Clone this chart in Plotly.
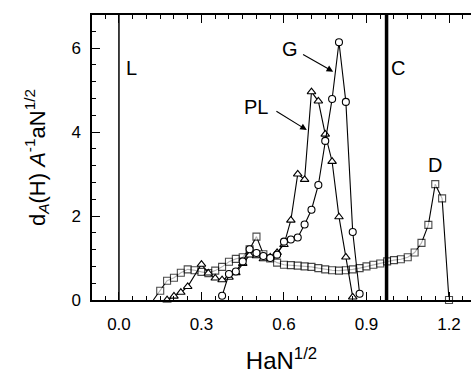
import plotly.graph_objects as go

# ---- data ----
d_x = [0.125, 0.15, 0.175, 0.2, 0.225, 0.25, 0.275, 0.3, 0.325, 0.35, 0.375, 0.4, 0.425, 0.45,
       0.475, 0.5, 0.525, 0.55, 0.575, 0.6, 0.625, 0.65, 0.675, 0.7, 0.725, 0.75, 0.775, 0.8,
       0.825, 0.85, 0.875, 0.9, 0.925, 0.95, 0.975, 1.0, 1.025, 1.05, 1.075, 1.1, 1.125, 1.15,
       1.175, 1.2]
d_y = [0.0, 0.22, 0.46, 0.53, 0.65, 0.73, 0.71, 0.67, 0.64, 0.70, 0.79, 0.91, 0.98, 1.02,
       1.21, 1.51, 1.09, 0.99, 0.89, 0.84, 0.83, 0.82, 0.80, 0.79, 0.76, 0.73, 0.71, 0.70,
       0.71, 0.73, 0.76, 0.80, 0.84, 0.87, 0.92, 0.95, 0.97, 1.02, 1.13, 1.36, 1.79, 2.76,
       2.42, 0.0]

pl_x = [0.175, 0.2, 0.225, 0.25, 0.3, 0.325, 0.35, 0.375, 0.4, 0.425, 0.45, 0.475, 0.5, 0.525,
        0.55, 0.575, 0.6, 0.625, 0.65, 0.675, 0.7, 0.725, 0.75, 0.775, 0.8, 0.825, 0.85]
pl_y = [0.0, 0.09, 0.18, 0.32, 0.85, 0.64, 0.52, 0.48, 0.54, 0.65, 0.87, 1.07, 1.05, 0.98,
        1.02, 1.13, 1.32, 1.90, 3.00, 2.87, 4.96, 4.74, 3.95, 3.30, 1.98, 1.02, 0.07]

g_x = [0.375, 0.4, 0.425, 0.45, 0.475, 0.5, 0.525, 0.55, 0.575, 0.6, 0.625, 0.65, 0.675, 0.7,
       0.725, 0.75, 0.775, 0.8, 0.825, 0.85, 0.875]
g_y = [0.10, 0.62, 0.68, 0.92, 1.21, 1.12, 1.05, 1.00, 1.08, 1.39, 1.44, 1.49, 1.80, 2.15,
       2.74, 3.79, 4.79, 6.14, 4.72, 1.62, 0.15]

boundary_L = 0.0
boundary_C = 0.973

x_ticks = [0.0, 0.3, 0.6, 0.9, 1.2]
x_tick_text = ["0.0", "0.3", "0.6", "0.9", "1.2"]
y_ticks = [0, 2, 4, 6]

FONT = "Liberation Sans, Arial, sans-serif"

fig = go.Figure()

# D series (first point is the line start, no marker)
d_sizes = [0] + [7] * (len(d_x) - 1)
fig.add_trace(go.Scatter(x=d_x, y=d_y, mode="lines+markers",
                         line=dict(color="black", width=1.1),
                         marker=dict(symbol="square", size=d_sizes, color="white",
                                     line=dict(color="black", width=1.1)),
                         cliponaxis=False, showlegend=False))
fig.add_trace(go.Scatter(x=pl_x, y=pl_y, mode="lines+markers",
                         line=dict(color="black", width=1.1),
                         marker=dict(symbol="triangle-up", size=7.5, color="white",
                                     line=dict(color="black", width=1.1)),
                         cliponaxis=False, showlegend=False))
fig.add_trace(go.Scatter(x=g_x, y=g_y, mode="lines+markers",
                         line=dict(color="black", width=1.1),
                         marker=dict(symbol="circle", size=7, color="white",
                                     line=dict(color="black", width=1.1)),
                         cliponaxis=False, showlegend=False))

# phase boundaries
fig.add_shape(type="line", xref="x", yref="y domain", x0=boundary_L, x1=boundary_L,
              y0=0, y1=1, line=dict(color="black", width=1.5))
fig.add_shape(type="line", xref="x", yref="y domain", x0=boundary_C, x1=boundary_C,
              y0=0, y1=1, line=dict(color="black", width=3.5))

lab_font = dict(family=FONT, size=20, color="black")
for txt, x, y in [("L", 0.046, 5.52), ("C", 1.015, 5.52), ("D", 1.149, 3.21),
                  ("G", 0.622, 5.98), ("PL", 0.50, 4.6)]:
    fig.add_annotation(x=x, y=y, text=txt, showarrow=False, font=lab_font,
                       xanchor="center", yanchor="middle")

# arrows
for (x0, y0, x1, y1) in [(0.664, 5.87, 0.779, 5.44), (0.567, 4.52, 0.683, 4.05)]:
    fig.add_annotation(x=x1, y=y1, ax=x0, ay=y0, xref="x", yref="y", axref="x", ayref="y",
                       text="", showarrow=True, arrowhead=2, arrowsize=1.2, arrowwidth=1.1,
                       arrowcolor="black")

fig.update_layout(
    width=471, height=374,
    margin=dict(l=92, r=0, t=15, b=74),
    paper_bgcolor="white", plot_bgcolor="white",
    font=dict(family=FONT, color="black"),
    showlegend=False,
)
fig.update_xaxes(range=[-0.098, 1.28], tickvals=x_ticks, ticktext=x_tick_text,
                 ticks="inside", ticklen=8, tickwidth=1, tickcolor="black",
                 minor=dict(dtick=0.05, tick0=0, ticks="inside", ticklen=4, tickcolor="black"),
                 showline=True, linecolor="black", linewidth=1.5, mirror="ticks",
                 showgrid=False, zeroline=False, ticklabelstandoff=8, automargin=False,
                 tickfont=dict(family=FONT, size=17),
                 title=dict(text="HaN<sup>1/2</sup>", font=dict(family=FONT, size=24), standoff=27))
fig.update_yaxes(range=[0, 6.79], tickvals=y_ticks,
                 ticks="inside", ticklen=8, tickwidth=1, tickcolor="black",
                 minor=dict(dtick=0.4, tick0=0, ticks="inside", ticklen=4, tickcolor="black"),
                 showline=True, linecolor="black", linewidth=1.5, mirror=False,
                 showgrid=False, zeroline=False, ticklabelstandoff=6, automargin=False,
                 tickfont=dict(family=FONT, size=17),
                 title=dict(text="d<sub><i>A</i></sub>(H) <i>A</i><sup>-1</sup>aN<sup>1/2</sup>",
                            font=dict(family=FONT, size=22), standoff=20))

fig.write_html("out.html")
